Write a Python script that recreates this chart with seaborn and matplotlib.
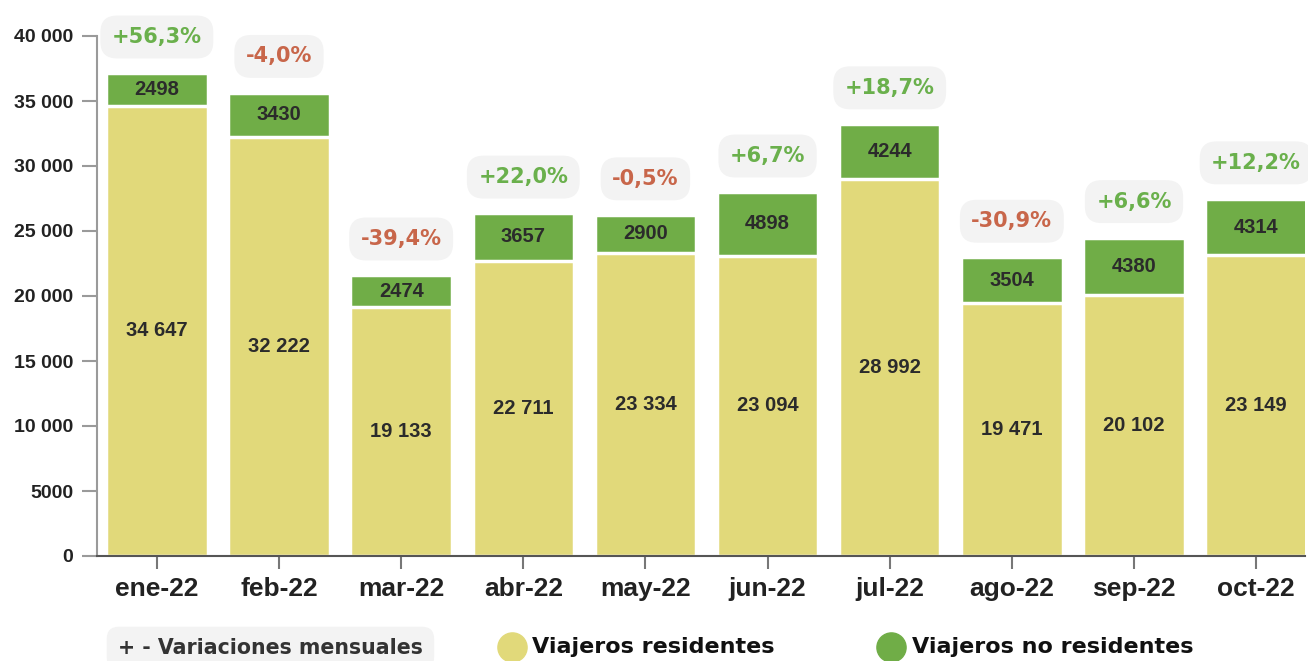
import matplotlib
matplotlib.use("Agg")
import matplotlib.pyplot as plt
from matplotlib.lines import Line2D
import seaborn as sns
import pandas as pd

# ---- data ----
months = ["ene-22", "feb-22", "mar-22", "abr-22", "may-22",
          "jun-22", "jul-22", "ago-22", "sep-22", "oct-22"]
residents = [34647, 32222, 19133, 22711, 23334, 23094, 28992, 19471, 20102, 23149]
non_residents = [2498, 3430, 2474, 3657, 2900, 4898, 4244, 3504, 4380, 4314]
variations = ["+56,3%", "-4,0%", "-39,4%", "+22,0%", "-0,5%",
              "+6,7%", "+18,7%", "-30,9%", "+6,6%", "+12,2%"]
y_ticks = [0, 5000, 10000, 15000, 20000, 25000, 30000, 35000, 40000]
y_tick_labels = ["0", "5000", "10 000", "15 000", "20 000", "25 000",
                 "30 000", "35 000", "40 000"]

YELLOW = "#E1D97A"
GREEN = "#70AD47"
PCT_GREEN = "#6AB04C"
PCT_RED = "#C8664A"
BOX_GRAY = "#F3F3F3"
TEXT_DARK = "#2B2B2B"

df = pd.DataFrame({"mes": months, "res": residents, "nores": non_residents})
df["total"] = df["res"] + df["nores"]

sns.set_theme(style="white")
plt.rcParams["font.family"] = ["DejaVu Sans"]

W, H = 1308, 661
fig = plt.figure(figsize=(W / 100, H / 100), dpi=100)
ax = fig.add_axes([97 / W, 1 - 556 / H, (1305 - 97) / W, (556 - 36) / H])

sns.barplot(data=df, x="mes", y="total", color=GREEN, saturation=1,
            width=0.83, edgecolor="white", linewidth=2.5, ax=ax)
sns.barplot(data=df, x="mes", y="res", color=YELLOW, saturation=1,
            width=0.83, edgecolor="white", linewidth=2.5, ax=ax)

ax.set_xlim(-0.49, 9.4)
ax.set_ylim(0, 40000)
ax.set_xlabel("")
ax.set_ylabel("")

for s in ["top", "right"]:
    ax.spines[s].set_visible(False)
ax.spines["left"].set_color("#9A9A9A")
ax.spines["left"].set_linewidth(1.5)
ax.spines["bottom"].set_color("#555555")
ax.spines["bottom"].set_linewidth(1.5)

ax.set_yticks(y_ticks)
ax.set_yticklabels(y_tick_labels, fontfamily="Liberation Sans",
                   fontweight="bold", fontsize=14, color="#222222")
ax.tick_params(axis="y", length=11, width=1.5, color="#9A9A9A", pad=6, left=True)
ax.set_xticks(range(len(months)))
ax.set_xticklabels(months, fontfamily=["Liberation Sans Narrow", "Liberation Sans"],
                   fontweight="bold", fontsize=19, color="#222222")
ax.tick_params(axis="x", length=9, width=1.5, color="#777777", pad=6, bottom=True)

label_font = dict(fontfamily="Liberation Sans", fontweight="bold",
                  fontsize=14.5, color=TEXT_DARK, ha="center", va="center")
for i, row in df.iterrows():
    ax.text(i, row["res"] / 2, f"{row['res']:,}".replace(",", " "), **label_font)
    ax.text(i, row["res"] + row["nores"] / 2, str(row["nores"]), **label_font)
    pct = variations[i]
    ax.annotate(pct, xy=(i, row["total"]), xytext=(0, 26),
                textcoords="offset points", ha="center", va="center",
                fontfamily="DejaVu Sans", fontweight="bold", fontsize=15,
                color=PCT_GREEN if pct.startswith("+") else PCT_RED,
                annotation_clip=False,
                bbox=dict(boxstyle="round,pad=0.55,rounding_size=0.8",
                          fc=BOX_GRAY, ec="none"))

# ---- bottom legend ----
fig.text(118 / W, 1 - 648 / H, "+ - Variaciones mensuales",
         fontfamily="DejaVu Sans", fontweight="bold", fontsize=14.8, color="#333333",
         ha="left", va="center",
         bbox=dict(boxstyle="round,pad=0.55,rounding_size=0.6", fc=BOX_GRAY, ec="none"))

fig.add_artist(Line2D([512 / W], [1 - 647 / H], marker="o", markersize=21,
                      color=YELLOW, linestyle="none", transform=fig.transFigure))
fig.text(532 / W, 1 - 647 / H, "Viajeros residentes", fontfamily="DejaVu Sans",
         fontweight="bold", fontsize=16, color="#111111", ha="left", va="center")
fig.add_artist(Line2D([891 / W], [1 - 647 / H], marker="o", markersize=21,
                      color=GREEN, linestyle="none", transform=fig.transFigure))
fig.text(912 / W, 1 - 647 / H, "Viajeros no residentes", fontfamily="DejaVu Sans",
         fontweight="bold", fontsize=16, color="#111111", ha="left", va="center")

fig.savefig("out.png", dpi=100)
